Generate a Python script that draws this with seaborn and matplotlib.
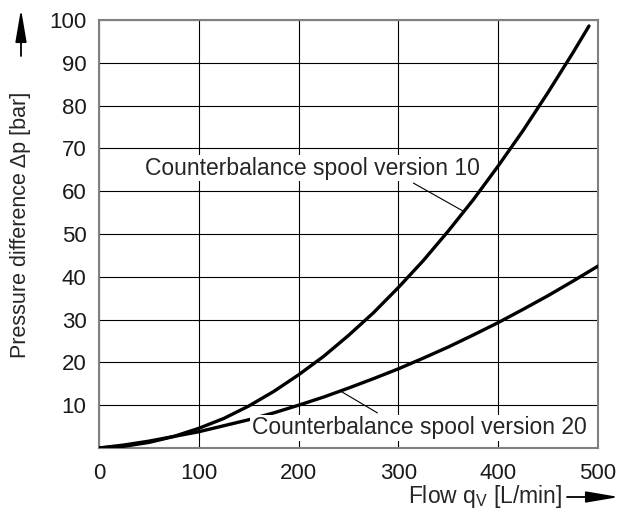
import matplotlib
matplotlib.use("Agg")
import matplotlib.pyplot as plt
from matplotlib.patches import FancyArrowPatch
import pandas as pd
import seaborn as sns

# curve readings (flow L/min -> pressure difference bar)
flow_v10 = [0, 25, 50, 75, 100, 125, 150, 175, 200, 225, 250,
            275, 300, 325, 350, 375, 400, 425, 450, 475, 491]
dp_v10 = [0, 0.4, 1.3, 2.7, 4.6, 6.9, 9.8, 13.2, 17.1, 21.4, 26.3,
          31.6, 37.5, 43.8, 50.7, 58.0, 65.9, 74.2, 83.1, 92.4, 98.6]
flow_v20 = [0, 25, 50, 75, 100, 125, 150, 175, 200, 225, 250,
            275, 300, 325, 350, 375, 400, 425, 450, 475, 500]
dp_v20 = [0, 0.7, 1.6, 2.7, 3.8, 5.2, 6.6, 8.2, 10.0, 11.9, 14.0,
          16.2, 18.5, 21.0, 23.6, 26.4, 29.3, 32.4, 35.6, 39.0, 42.5]

x_ticks = [0, 100, 200, 300, 400, 500]
y_ticks = [10, 20, 30, 40, 50, 60, 70, 80, 90, 100]

label_v10 = "Counterbalance spool version 10"
label_v20 = "Counterbalance spool version 20"

df = pd.concat([
    pd.DataFrame({"flow": flow_v10, "dp": dp_v10, "spool": label_v10}),
    pd.DataFrame({"flow": flow_v20, "dp": dp_v20, "spool": label_v20}),
])

sns.set_style("white")
plt.rcParams["font.family"] = ["Liberation Sans", "DejaVu Sans"]
plt.rcParams["mathtext.fontset"] = "custom"
plt.rcParams["mathtext.rm"] = "Liberation Sans"

fig = plt.figure(figsize=(6.22, 5.22), dpi=100)
ax = fig.add_axes([99 / 622, 1 - 448 / 522, 499 / 622, 428 / 522])

sns.lineplot(data=df, x="flow", y="dp", units="spool", estimator=None,
             color="black", lw=2.4, ax=ax, legend=False, zorder=3)

ax.set_xlim(0, 500)
ax.set_ylim(0, 100)
ax.set_xticks(x_ticks)
ax.set_yticks(y_ticks)
ax.tick_params(length=0, labelsize=16, colors="#1a1a1a")
ax.tick_params(axis="x", pad=11)
ax.tick_params(axis="y", pad=9)
ax.grid(True, color="black", lw=0.8)
ax.set_axisbelow(True)
for s in ax.spines.values():
    s.set_color("#808080")
    s.set_linewidth(1.5)
ax.set_xlabel("")
ax.set_ylabel("")

# curve labels with leader lines
ax.text(46, 65.4, label_v10, fontsize=16.5, va="center", ha="left",
        bbox=dict(fc="white", ec="none", pad=1), zorder=4)
ax.plot([315, 364.5], [61.9, 55.4], color="black", lw=0.8, zorder=4)
ax.text(153, 4.7, label_v20, fontsize=16.5, va="center", ha="left",
        bbox=dict(fc="white", ec="none", pad=1), zorder=4)
ax.plot([242, 279], [13.3, 8.2], color="black", lw=0.8, zorder=4)

# axis titles with arrows
arrow_style = "-|>,head_length=2.0,head_width=0.34"
fig.text(21 / 622, 1 - 358 / 522, "Pressure difference \u0394p [bar]",
         rotation=90, fontsize=15.5, ha="center", va="bottom")
fig.add_artist(FancyArrowPatch(
    (21 / 622, 1 - 56 / 522), (21 / 622, 1 - 9 / 522),
    transform=fig.transFigure, arrowstyle=arrow_style,
    color="black", lw=1.3, mutation_scale=10, shrinkA=0, shrinkB=0))
fig.text(562 / 622, 1 - 497 / 522, "Flow q$_\\mathregular{V}$ [L/min]",
         fontsize=16.5, ha="right", va="center")
fig.add_artist(FancyArrowPatch(
    (567 / 622, 1 - 497 / 522), (619 / 622, 1 - 497 / 522),
    transform=fig.transFigure, arrowstyle=arrow_style,
    color="black", lw=1.3, mutation_scale=10, shrinkA=0, shrinkB=0))

fig.savefig("out.png", dpi=100)
